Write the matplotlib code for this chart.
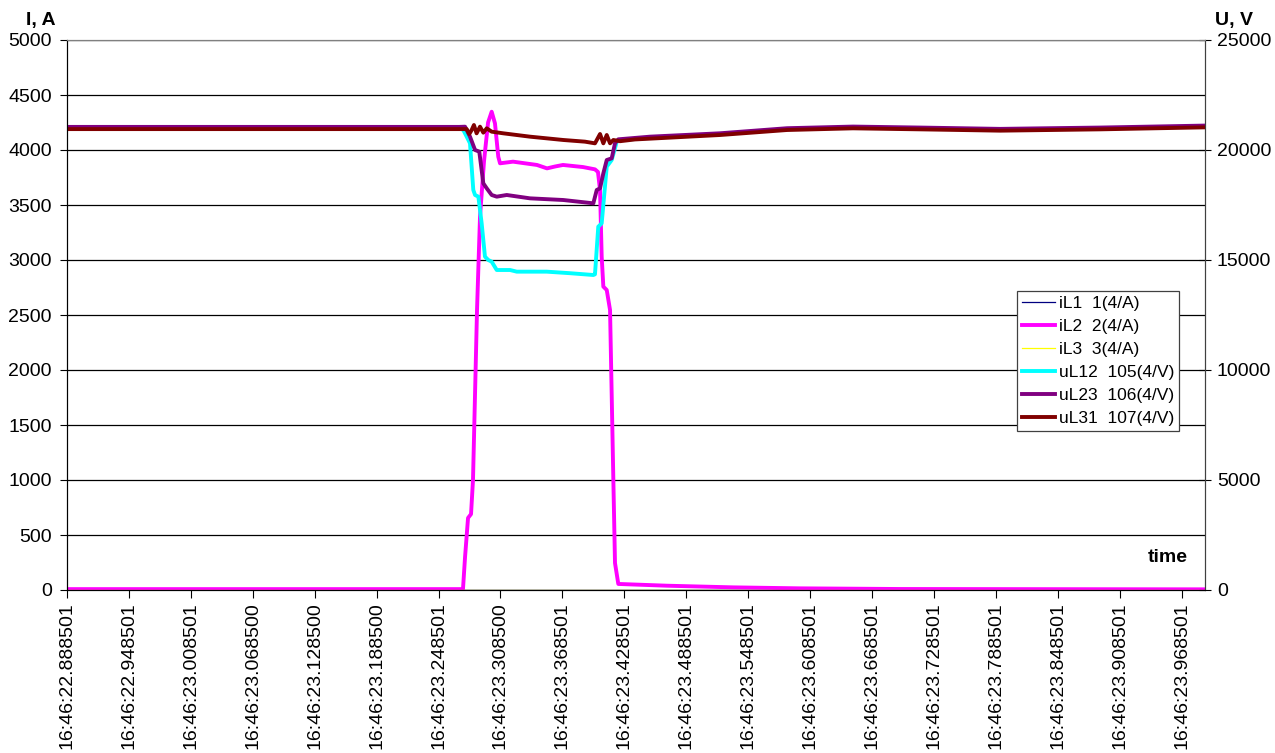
import numpy as np
import matplotlib
matplotlib.use("Agg")
import matplotlib.pyplot as plt

plt.rcParams['font.family'] = ['Liberation Sans', 'DejaVu Sans']

# time axis in ms after 16:46:22.888501
tick_labels = ['16:46:22.888501', '16:46:22.948501', '16:46:23.008501', '16:46:23.068500',
               '16:46:23.128500', '16:46:23.188500', '16:46:23.248501', '16:46:23.308500',
               '16:46:23.368501', '16:46:23.428501', '16:46:23.488501', '16:46:23.548501',
               '16:46:23.608501', '16:46:23.668501', '16:46:23.728501', '16:46:23.788501',
               '16:46:23.848501', '16:46:23.908501', '16:46:23.968501']
t_end = 1102.7

# currents, A
iL1_t = [0, 1102.7]
iL1 = [2, 2]
iL3_t = [0, 1102.7]
iL3 = [0, 0]
iL2_t = [0, 383.7, 385.7, 388.6, 391.5, 393.4, 397.3, 400.2, 404.1, 408.0, 411.5, 414.7,
         417.9, 419.6, 432.2, 455.4, 465.1, 472.9, 480.6, 500.0, 511.6, 514.5, 516.5,
         518.1, 519.7, 523.0, 526.2, 529.4, 531.0, 534.2, 581.4, 645.4, 710.3, 807.2, 1102.7]
iL2 = [8, 8, 300, 655, 690, 1000, 2545, 3394, 3900, 4250, 4348, 4242,
       3939, 3879, 3894, 3864, 3833, 3850, 3864, 3845, 3824, 3800, 3636,
       3030, 2758, 2727, 2545, 1000, 245, 55, 39, 24, 15, 9, 6]

# voltages, V
uL12_t = [0, 380.0, 384.0, 387.3, 390.5, 393.7, 395.4, 398.6, 401.8, 405.0, 408.2, 411.5,
          416.4, 429.3, 435.8, 464.8, 487.4, 510.0, 511.6, 514.8, 518.1, 523.0, 527.8,
          531.0, 532.7, 535.9, 564.9, 632.8, 697.7, 761.6, 826.6, 904.1, 1001.0, 1102.7]
uL12 = [21000, 21000, 20909, 20606, 20303, 18182, 17955, 17879, 16667, 15152, 15000, 14924,
        14545, 14545, 14470, 14470, 14400, 14318, 14350, 16515, 16667, 19242, 19545,
        20076, 20379, 20450, 20550, 20720, 20950, 21020, 20980, 20920, 20980, 21070]
uL23_t = [0, 380.0, 385.7, 390.5, 395.4, 399.5, 403.4, 406.7, 411.5, 416.4, 426.1, 448.6,
          480.9, 510.0, 513.3, 516.5, 519.7, 523.0, 527.8, 531.0, 534.2, 564.9, 632.8,
          697.7, 761.6, 826.6, 904.1, 1001.0, 1102.7]
uL23 = [21050, 21050, 21060, 20606, 20000, 19924, 18485, 18258, 17955, 17879, 17955, 17803,
        17727, 17576, 18182, 18258, 18939, 19545, 19621, 20303, 20485, 20606, 20760,
        20990, 21065, 21020, 20960, 21020, 21110]
uL31_t = [0, 380.8, 387.3, 389.8, 392.1, 394.3, 396.9, 400.2, 403.4, 406.7, 411.5, 422.8,
          448.6, 480.9, 501.9, 511.6, 516.5, 519.7, 523.0, 526.2, 529.4, 535.9, 550.4,
          632.8, 697.7, 761.6, 826.6, 904.1, 1001.0, 1102.7]
uL31 = [20950, 20950, 20950, 20727, 20909, 21136, 20758, 21060, 20788, 20985, 20833, 20758,
        20606, 20455, 20379, 20303, 20727, 20303, 20682, 20303, 20455, 20400, 20480,
        20682, 20909, 20985, 20939, 20879, 20939, 21030]

W, H = 1275, 753
fig = plt.figure(figsize=(W / 100, H / 100), dpi=100)
ax = fig.add_axes([67 / W, 1 - 590 / H, 1138 / W, 550 / H])
ax2 = ax.twinx()

h1, = ax.plot(iL1_t, iL1, color='#000080', lw=0.9, label='iL1  1(4/A)')
h2, = ax.plot(iL2_t, iL2, color='#ff00ff', lw=2.8, label='iL2  2(4/A)')
h3, = ax.plot(iL3_t, iL3, color='#ffff00', lw=0.9, label='iL3  3(4/A)')
h4, = ax2.plot(uL12_t, uL12, color='#00ffff', lw=2.8, label='uL12  105(4/V)')
h5, = ax2.plot(uL23_t, uL23, color='#800080', lw=2.8, label='uL23  106(4/V)')
h6, = ax2.plot(uL31_t, uL31, color='#800000', lw=2.8, label='uL31  107(4/V)')

ax.set_xlim(0, t_end)
ax.set_ylim(0, 5000)
ax2.set_ylim(0, 25000)
ax.set_yticks(np.arange(0, 5001, 500))
ax2.set_yticks(np.arange(0, 25001, 5000))

t0 = float(tick_labels[0].split(':')[2])
ticks = [(float(s.split(':')[2]) - t0) * 1000 for s in tick_labels]
ax.set_xticks(ticks)
ax.set_xticklabels(tick_labels, rotation=90, fontsize=14)

ax.grid(axis='y', color='black', lw=0.9)
ax.set_axisbelow(True)
ax.tick_params(axis='y', labelsize=14, length=5, pad=6, direction='out')
ax.tick_params(axis='x', length=6, pad=3, direction='out')
ax2.tick_params(axis='y', labelsize=14, length=9, pad=4, direction='inout')

for a in (ax, ax2):
    a.spines['top'].set_color('#808080')
    a.spines['left'].set_color('black')
    a.spines['right'].set_color('#404040')
    a.spines['bottom'].set_color('black')

fig.text(41 / W, 1 - 21 / H, 'I, A', fontsize=14, fontweight='bold', ha='center', va='center')
fig.text(1234 / W, 1 - 20 / H, 'U, V', fontsize=14, fontweight='bold', ha='center', va='center')
fig.text(1168 / W, 1 - 558 / H, 'time', fontsize=14, fontweight='bold', ha='center', va='center')

leg = ax2.legend(handles=[h1, h2, h3, h4, h5, h6], loc='upper left',
                 bbox_to_anchor=(0.835, 0.5436), fontsize=12.5, frameon=True, fancybox=False,
                 edgecolor='#404040', framealpha=1, handlelength=1.9, handletextpad=0.2,
                 borderpad=0.3, labelspacing=0.45, borderaxespad=0)
leg.get_frame().set_linewidth(0.9)

fig.savefig('out.png', dpi=100)
